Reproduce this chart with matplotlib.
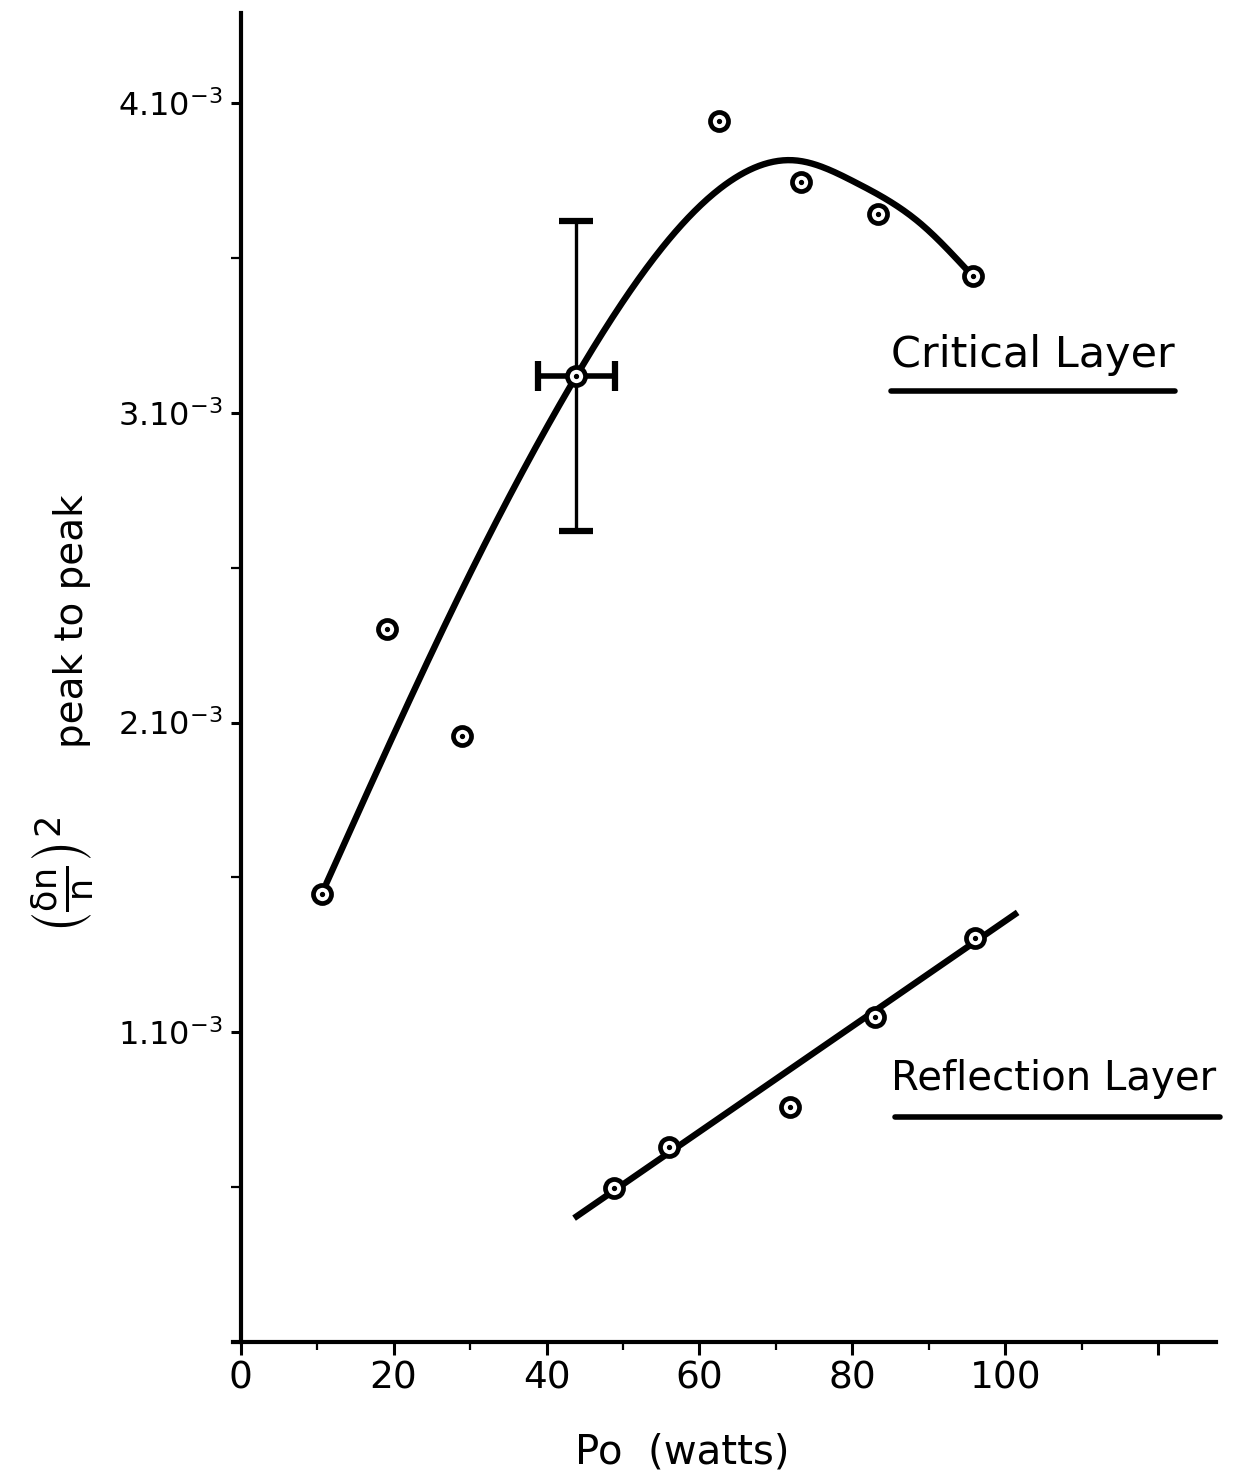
import numpy as np
import matplotlib
matplotlib.use("Agg")
import matplotlib.pyplot as plt
from matplotlib.ticker import MultipleLocator

plt.rcParams['font.family'] = ['DejaVu Sans']
plt.rcParams['mathtext.default'] = 'regular'

# Critical layer data (P0 in watts, (dn/n)^2 in units of 1e-3)
crit_x = [10.7, 19.1, 28.9, 43.9, 62.5, 73.3, 83.4, 95.7]
crit_y = [1.448, 2.303, 1.958, 3.119, 3.942, 3.745, 3.642, 3.442]
# error bar on one point
err_x, err_y = 43.9, 3.119
err_dx, err_dy = 5.0, 0.50
# hand-drawn smooth curve through the critical-layer data (knots)
curve_kx = [11.2, 28.9, 43.9, 54.7, 65.1, 72.5, 80.3, 89.0, 95.1]
curve_ky = [1.48, 2.426, 3.119, 3.52, 3.765, 3.815, 3.745, 3.609, 3.458]

# Reflection layer data
refl_x = [48.8, 56.0, 71.9, 83.0, 96.0]
refl_y = [0.497, 0.629, 0.758, 1.048, 1.303]
refl_line_x = [43.6, 101.6]
refl_line_y = [0.400, 1.387]

yticks_major = [1, 2, 3, 4]
ytick_labels = ['1.10$^{-3}$', '2.10$^{-3}$', '3.10$^{-3}$', '4.10$^{-3}$']
xticks_labels = [0, 20, 40, 60, 80, 100]


def natural_spline(xk, yk, xs):
    xk = np.asarray(xk, float); yk = np.asarray(yk, float)
    n = len(xk)
    h = np.diff(xk)
    A = np.zeros((n, n)); b = np.zeros(n)
    A[0, 0] = 1; A[-1, -1] = 1
    for i in range(1, n - 1):
        A[i, i - 1] = h[i - 1]
        A[i, i] = 2 * (h[i - 1] + h[i])
        A[i, i + 1] = h[i]
        b[i] = 6 * ((yk[i + 1] - yk[i]) / h[i] - (yk[i] - yk[i - 1]) / h[i - 1])
    M = np.linalg.solve(A, b)
    idx = np.clip(np.searchsorted(xk, xs) - 1, 0, n - 2)
    x0 = xk[idx]; x1 = xk[idx + 1]; hh = x1 - x0
    t0 = x1 - xs; t1 = xs - x0
    return (M[idx] * t0 ** 3 / (6 * hh) + M[idx + 1] * t1 ** 3 / (6 * hh)
            + (yk[idx] / hh - M[idx] * hh / 6) * t0 + (yk[idx + 1] / hh - M[idx + 1] * hh / 6) * t1)


fig = plt.figure(figsize=(12.34, 14.72), dpi=100)
ax = fig.add_axes([0.1888, 0.0883, 0.797, 0.9027])

# curve
xs = np.linspace(curve_kx[0], curve_kx[-1], 400)
ax.plot(xs, natural_spline(curve_kx, curve_ky, xs), color='black', lw=4.6,
        solid_capstyle='round', zorder=2)

# reflection line
ax.plot(refl_line_x, refl_line_y, color='black', lw=4.6, solid_capstyle='butt', zorder=2)

# error bars
ax.errorbar([err_x], [err_y], yerr=err_dy, fmt='none', ecolor='black', elinewidth=2.4,
            capsize=12, capthick=4.5, zorder=2)
ax.errorbar([err_x], [err_y], xerr=err_dx, fmt='none', ecolor='black', elinewidth=4,
            capsize=11, capthick=4.5, zorder=2)

# markers
for xx, yy in [(crit_x, crit_y), (refl_x, refl_y)]:
    ax.plot(xx, yy, linestyle='none', marker='o', markersize=13, markerfacecolor='white',
            markeredgecolor='black', markeredgewidth=3.4, zorder=3)
    ax.plot(xx, yy, linestyle='none', marker='o', markersize=2.8, color='black', zorder=4)

ax.set_xlim(-1.0, 127.6)
ax.set_ylim(0, 4.29)

for s in ['top', 'right']:
    ax.spines[s].set_visible(False)
ax.spines['left'].set_position(('data', 0))
ax.spines['left'].set_linewidth(3)
ax.spines['bottom'].set_linewidth(3)

ax.set_xticks(list(range(0, 121, 20)))
ax.set_xticklabels([str(v) for v in xticks_labels] + [''])
ax.xaxis.set_minor_locator(MultipleLocator(10))
ax.tick_params(axis='x', which='major', direction='out', length=9, width=2.2, pad=4,
               labelsize=27)
ax.tick_params(axis='x', which='minor', direction='out', length=6, width=1.6)

ax.set_yticks([0] + yticks_major)
ax.set_yticklabels([''] + ytick_labels)
ax.yaxis.set_minor_locator(MultipleLocator(0.5))
ax.tick_params(axis='y', which='major', direction='out', length=7, width=2.2, pad=6,
               labelsize=23)
ax.tick_params(axis='y', which='minor', direction='out', length=7, width=1.6)

ax.set_xlabel('Po  (watts)', fontsize=29, labelpad=20)
ax.xaxis.set_label_coords(0.457, -0.068)

fig.text(0.058, 0.578, 'peak to peak', rotation=90, fontsize=28, ha='center', va='center')
fig.text(0.050, 0.405, r'$\left(\frac{\delta n}{n}\right)^{2}$', rotation=90, fontsize=36,
         ha='center', va='center')

# annotations
ax.text(85.0, 3.12, 'Critical Layer', fontsize=31, ha='left', va='bottom')
ax.plot([85.0, 122.2], [3.07, 3.07], color='black', lw=4, solid_capstyle='round', clip_on=False)
ax.text(85.0, 0.785, 'Reflection Layer', fontsize=29, ha='left', va='bottom')
ax.plot([85.5, 128.0], [0.725, 0.725], color='black', lw=4, solid_capstyle='round', clip_on=False)

fig.savefig('out.png', dpi=100, facecolor='white')
